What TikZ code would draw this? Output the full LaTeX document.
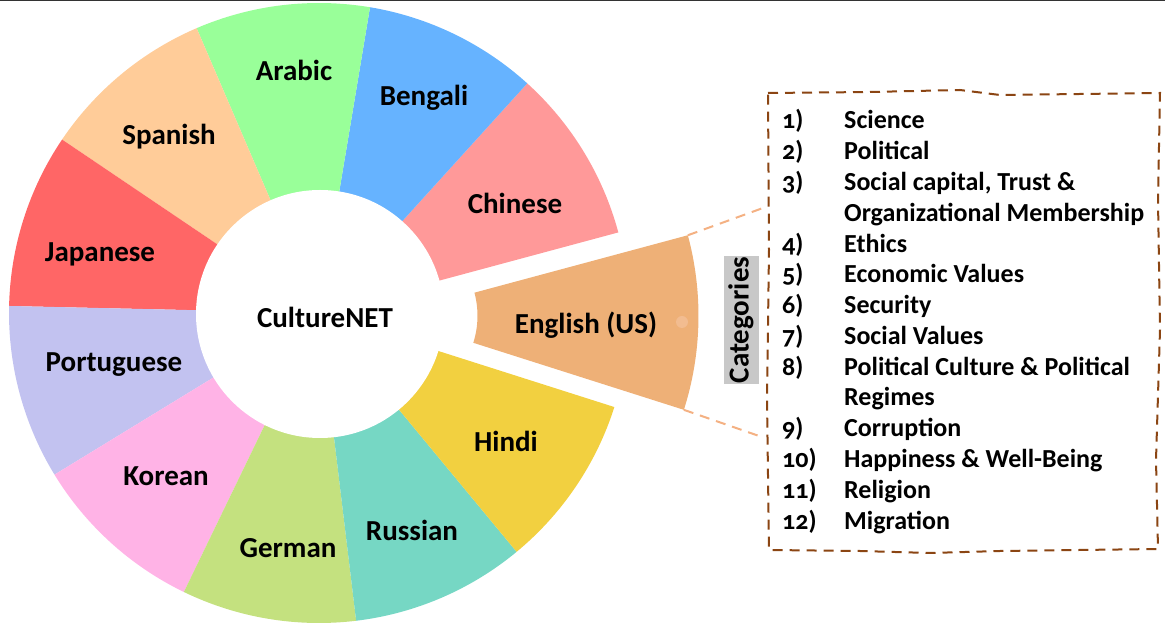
\documentclass[tikz,border=0pt]{standalone}
\usepackage{fontspec}
\setmainfont{Carlito}[Numbers=OldStyle]
\usetikzlibrary{positioning}

\definecolor{english}{HTML}{EEB077}
\definecolor{engdot}{HTML}{F2BC90}
\definecolor{chinese}{HTML}{FF9999}
\definecolor{bengali}{HTML}{66B3FF}
\definecolor{arabic}{HTML}{99FF99}
\definecolor{spanish}{HTML}{FFCC99}
\definecolor{japanese}{HTML}{FF6666}
\definecolor{portuguese}{HTML}{C2C2F0}
\definecolor{korean}{HTML}{FFB3E6}
\definecolor{german}{HTML}{C4E17F}
\definecolor{russian}{HTML}{76D7C4}
\definecolor{hindi}{HTML}{F2D040}
\definecolor{linkorange}{HTML}{F4B183}
\definecolor{framebrown}{HTML}{8B4513}
\definecolor{catgray}{HTML}{C8C8C8}
\definecolor{topgray}{HTML}{333333}

\begin{document}
\begin{tikzpicture}[x=1pt, y=1pt,
    every node/.style={font=\fontsize{26}{30}\selectfont\bfseries},
    wedgelabel/.style={inner sep=0pt, font=\fontsize{29}{33}\selectfont\bfseries},
    catline/.style={anchor=base west, inner sep=0pt},
    linkline/.style={line width=2pt, color=linkorange, dash pattern=on 10pt off 7pt},
    catframe/.style={line width=2pt, color=framebrown, dash pattern=on 10pt off 7pt},
  ]
  \useasboundingbox (-319,-315) rectangle (846,313);
  \draw[line width=3pt, topgray] (-319,313) -- (846,313);

  % ring of languages
  \foreach \k/\col in {1/chinese, 2/bengali, 3/arabic, 4/spanish, 5/japanese,
                       6/portuguese, 7/korean, 8/german, 9/russian, 10/hindi}{
    \pgfmathsetmacro\a{-17.66+32.727*\k}
    \pgfmathsetmacro\b{\a+32.727}
    \fill[\col] (\a:310) arc[start angle=\a, end angle=\b, radius=310]
      -- (\b:89) arc[start angle=\b, end angle=\a, radius=89] -- cycle;
  }
  \fill[white] (1,-1) circle[radius=124];

  % exploded slice
  \begin{scope}[shift={(69.5,-2.8)}]
    \fill[english] (-17.66:310) arc[start angle=-17.66, end angle=15.06, radius=310]
      -- (15.06:89) arc[start angle=15.06, end angle=-17.66, radius=89] -- cycle;
    \coordinate (engtop) at (15.06:310);
    \coordinate (engbot) at (-17.66:310);
  \end{scope}
  \fill[engdot] (363,-9) circle[radius=6];

  \foreach \lang/\lx/\ly in {Chinese/196/110, Bengali/105/215, Arabic/-25/243,
      Spanish/-150/176, Japanese/-219/59, Portuguese/-205/-52, Korean/-153/-163,
      German/-31/-235, Russian/93/-217, Hindi/187/-128}
    \node[wedgelabel] (lab-\lang) at (\lx,\ly) {\lang};
  \node[wedgelabel] (lab-English) at (267,-12) {English (US)};
  \node[wedgelabel] (hub) at (6,-4) {CultureNET};

  % category list
  \node[fill=catgray, rotate=90, inner sep=0pt, minimum width=128pt,
        minimum height=35pt, font=\fontsize{29}{33}\selectfont\bfseries]
        (cats) at (422,-7) {Categories};
  \draw[catframe] (449,220) -- (551,221) -- (641,223) -- (681,218) -- (841,220)
    -- (839,113) -- (841,-17) -- (837,-147) -- (839,-236) -- (681,-238)
    -- (611,-240) -- (541,-238) -- (450,-237) -- (448,-87) -- (450,63) -- cycle;
  \coordinate (frametop) at (444,105);
  \coordinate (framebot) at (443,-124);
  \draw[linkline] (engtop) -- (frametop);
  \draw[linkline] (engbot) -- (framebot);

  \foreach \i/\n in {0/1, 1/2, 2/3, 4/4, 5/5, 6/6, 7/7, 8/8, 10/9, 11/10, 12/11, 13/12}
    \node[catline] (num\i) at (463,184-30.77*\i) {\n)};
  \foreach \i/\txt in {0/Science, 1/Political, 2/{Social capital, Trust \&},
      3/Organizational Membership, 4/Ethics, 5/Economic Values, 6/Security,
      7/Social Values, 8/Political Culture \& Political, 9/Regimes,
      10/Corruption, 11/Happiness \& Well-Being, 12/Religion, 13/Migration}
    \node[catline] (item\i) at (525,184-30.77*\i) {\txt};
\end{tikzpicture}
\end{document}
